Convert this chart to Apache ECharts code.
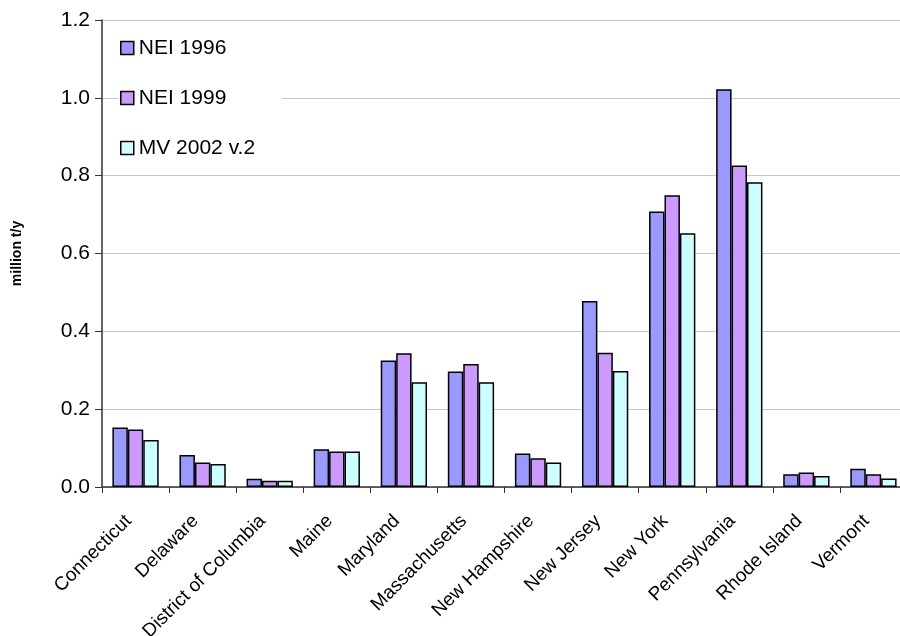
<!DOCTYPE html>
<html>
<head>
<meta charset="utf-8">
<script src="https://cdn.jsdelivr.net/npm/echarts@6/dist/echarts.min.js"></script>
<style>
html,body{margin:0;padding:0;background:#fff;}
#chart{width:900px;height:636px;}
</style>
</head>
<body>
<div id="chart"></div>
<script>
const categories = ["Connecticut","Delaware","District of Columbia","Maine","Maryland","Massachusetts","New Hampshire","New Jersey","New York","Pennsylvania","Rhode Island","Vermont"];
const nei1996 = [0.153,0.082,0.021,0.097,0.325,0.297,0.086,0.478,0.708,1.022,0.033,0.047];
const nei1999 = [0.148,0.063,0.016,0.091,0.344,0.316,0.074,0.345,0.750,0.826,0.037,0.033];
const mv2002 = [0.121,0.059,0.016,0.091,0.269,0.269,0.063,0.298,0.652,0.783,0.028,0.022];
const yTicks = [0,0.2,0.4,0.6,0.8,1.0,1.2];

const font = '"Liberation Sans", Arial, sans-serif';
const chart = echarts.init(document.getElementById('chart'), null, {renderer:'canvas'});
function bar(name, data, color){
  return {name, type:'bar', data, barGap:'0%', barCategoryGap:'31%',
    itemStyle:{color, borderColor:'#000', borderWidth:1.5}, emphasis:{disabled:true}, animation:false};
}
chart.setOption({
  animation:false,
  textStyle:{fontFamily:font},
  grid:{left:102, top:20, width:805, bottom:149, containLabel:false, outerBoundsMode:'none'},
  legend:{
    orient:'vertical', left:118, top:28, icon:'rect', itemWidth:13, itemHeight:13, itemGap:26,
    backgroundColor:'#fff', padding:[8,27,8,2],
    textStyle:{fontFamily:font, fontSize:21, color:'#000', lineHeight:24},
    itemStyle:{borderColor:'#000', borderWidth:1.5},
    selectedMode:false,
    data:['NEI 1996','NEI 1999','MV 2002 v.2']
  },
  xAxis:{
    type:'category', data:categories,
    axisLine:{lineStyle:{color:'#333', width:1.5}},
    axisTick:{show:true, interval:0, length:6, lineStyle:{color:'#333'}},
    axisLabel:{interval:0, rotate:45, fontSize:19, color:'#000', margin:24, padding:[0,10,0,0], fontFamily:font},
    splitLine:{show:false}
  },
  yAxis:{
    type:'value', min:0, max:1.2, interval:0.2,
    name:'million t/y', nameLocation:'middle', nameGap:78,
    nameTextStyle:{fontSize:14, fontWeight:'bold', color:'#000', fontFamily:font},
    axisLine:{show:true, lineStyle:{color:'#333', width:1.5}},
    axisTick:{show:true, inside:false, length:7, lineStyle:{color:'#333'}},
    axisLabel:{fontSize:21, color:'#000', margin:12, fontFamily:font,
      formatter:function(v){return v.toFixed(1);}},
    splitLine:{show:true, lineStyle:{color:'#c8c8c8', width:1.2}}
  },
  series:[
    bar('NEI 1996', nei1996, '#9999FF'),
    bar('NEI 1999', nei1999, '#CC99FF'),
    bar('MV 2002 v.2', mv2002, '#CCFFFF')
  ]
});
</script>
</body>
</html>
